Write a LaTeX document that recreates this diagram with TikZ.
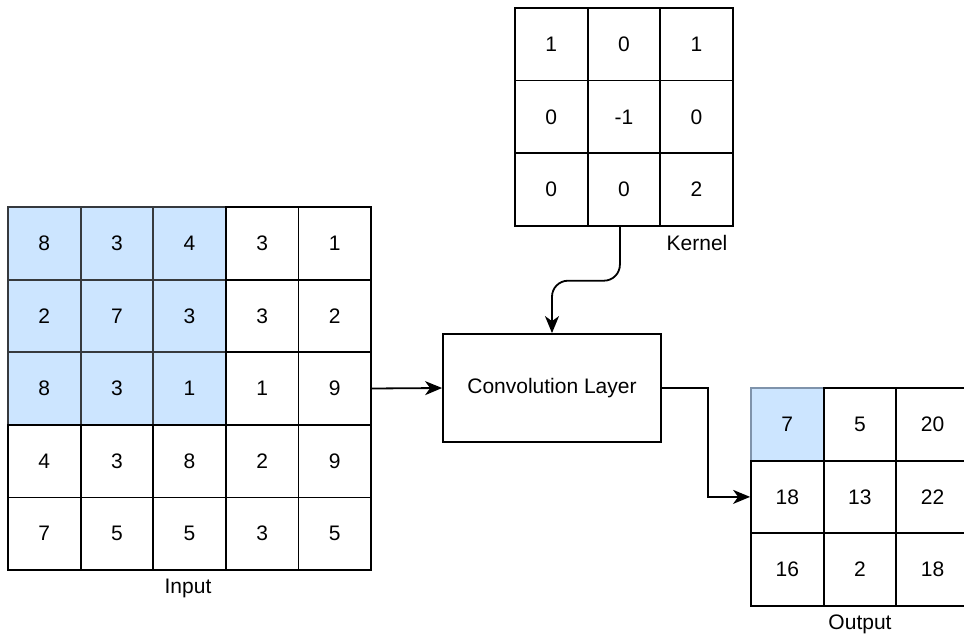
\documentclass[tikz,border=0pt]{standalone}
\usepackage{fontspec}
\setmainfont{Liberation Sans}
\usetikzlibrary{arrows.meta}
\definecolor{hlfill}{HTML}{CCE5FF}
\definecolor{hldraw}{HTML}{36393D}
\definecolor{hldrawb}{HTML}{7F93AB}
\begin{document}
\begin{tikzpicture}[x=1pt,y=-1pt,
  cell/.style={draw, minimum size=72.6pt, inner sep=0pt, line width=1.8pt, font=\fontsize{21}{21}\selectfont},
  hl/.style={fill=hlfill, draw=hldraw},
  hlb/.style={fill=hlfill, draw=hldrawb},
  lbl/.style={font=\fontsize{21}{21}\selectfont, inner sep=0pt},
  conv/.style={draw, line width=1.8pt, minimum width=218pt, minimum height=108pt, inner sep=0pt, font=\fontsize{21}{21}\selectfont},
  link/.style={line width=1.8pt, -{Stealth[length=17pt,width=14pt,inset=5pt]}}]
\useasboundingbox (0,0) rectangle (964,639);
% Input grid
\foreach \row [count=\i] in {{8,3,4,3,1},{2,7,3,3,2},{8,3,1,1,9},{4,3,8,2,9},{7,5,5,3,5}} {
  \foreach \v [count=\j] in \row {
    \ifnum\i<4 \ifnum\j<4 \def\st{hl}\else\def\st{}\fi \else \def\st{}\fi
    \node[cell,\st] (in\i\j) at ({8+72.6*(\j-0.5)},{207+72.6*(\i-0.5)}) {\v};
  }
}
% Kernel grid
\foreach \row [count=\i] in {{1,0,1},{0,-1,0},{0,0,2}} {
  \foreach \v [count=\j] in \row {
    \node[cell] (k\i\j) at ({515+72.6*(\j-0.5)},{8+72.6*(\i-0.5)}) {\v};
  }
}
% Output grid
\foreach \row [count=\i] in {{7,5,20},{18,13,22},{16,2,18}} {
  \foreach \v [count=\j] in \row {
    \ifnum\i=1 \ifnum\j=1 \def\st{hlb}\else\def\st{}\fi \else \def\st{}\fi
    \node[cell,\st] (o\i\j) at ({751+72.6*(\j-0.5)},{388+72.6*(\i-0.5)}) {\v};
  }
}
% Labels
\node[lbl] (lin) at (188,588) {Input};
\node[lbl] (lk) at (697,243) {Kernel};
\node[lbl] (lo) at (860,624) {Output};
% Convolution layer
\node[conv] (cv) at (552,388) {Convolution Layer};
% Connectors
\draw[link] (in35.east) -- (cv.west);
\coordinate (kb) at ([xshift=-4pt]k32.south);
\draw[link, rounded corners=16pt] (kb) -- ([yshift=-54pt]kb) -- ([yshift=-54pt]kb -| cv.north) -- (cv.north);
\draw[link] (cv.east) -- ++(46,0) |- (o21.west);
\end{tikzpicture}
\end{document}
